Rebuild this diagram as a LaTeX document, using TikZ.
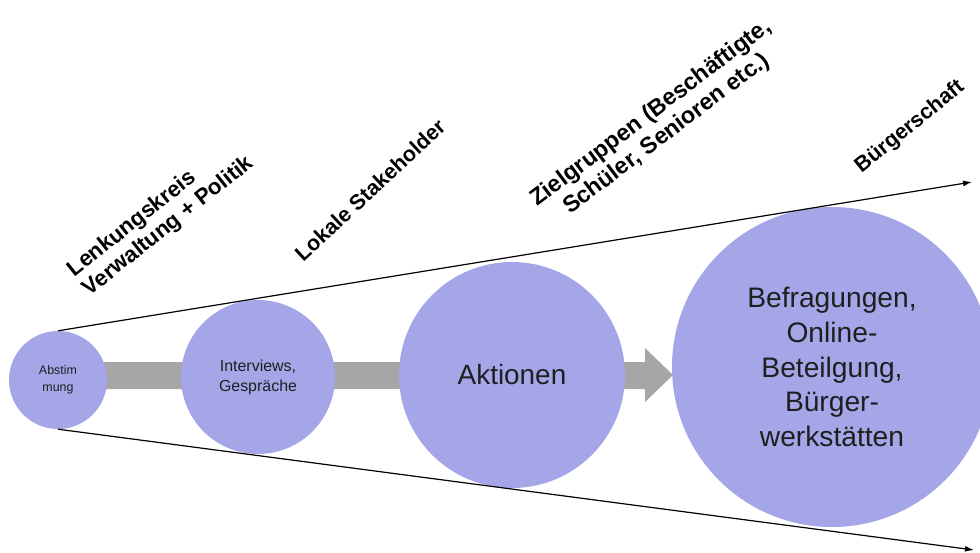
\documentclass[tikz,border=0pt]{standalone}
\usepackage{fontspec}
\setmainfont{Liberation Sans}
\usetikzlibrary{arrows.meta}
\definecolor{circfill}{RGB}{164,166,232}
\definecolor{arrowgray}{RGB}{166,166,166}
\begin{document}
\begin{tikzpicture}[x=1bp,y=-1bp,
  bubble/.style={circle,fill=circfill,inner sep=0pt,align=center,text=black!88},
  edge/.style={draw=black,line width=1.2bp,-{Latex[length=9bp,width=6bp]}},
  tag/.style={font=\bfseries\fontsize{21.5}{23.5}\selectfont,rotate=39,align=center,inner sep=0pt}]
\useasboundingbox (0,0) rectangle (980,553);
\clip (0,0) rectangle (980,553);
% block arrow behind the circles
\fill[arrowgray] (58,362) -- (645,362) -- (645,348) -- (673,375) -- (645,402) -- (645,389) -- (58,389) -- cycle;
% circles
\node[bubble,minimum size=98bp,font=\fontsize{12.5}{17}\selectfont] (c1) at (58,380) {Abstim\\mung};
\node[bubble,minimum size=154bp,font=\fontsize{16}{20}\selectfont] (c2) at (258,377) {Interviews,\\Gespräche};
\node[bubble,minimum size=226bp,font=\fontsize{28}{32}\selectfont] (c3) at (512,375) {Aktionen};
\node[bubble,minimum size=320bp,font=\fontsize{28.3}{35}\selectfont] (c4) at (832,367) {Befragungen,\\Online-\\Beteilgung,\\Bürger-\\werkstätten};
% funnel lines
\coordinate (e1) at (972,182);
\coordinate (e2) at (974,550);
\draw[edge] (c1.north) -- (e1);
\draw[edge] (c1.south) -- (e2);
% labels
\node[tag,rotate=-0.5,align=left,font=\bfseries\fontsize{22.3}{24.5}\selectfont] (l1) at (161,217) {Lenkungskreis\\Verwaltung + Politik};
\node[tag,rotate=4] (l2) at (370,190) {Lokale Stakeholder};
\node[tag,rotate=-2,font=\bfseries\fontsize{23.4}{26}\selectfont] (l3) at (659,124) {Zielgruppen (Beschäftigte,\\Schüler, Senioren etc.)};
\node[tag] (l4) at (910,127) {Bürgerschaft};
\end{tikzpicture}
\end{document}
